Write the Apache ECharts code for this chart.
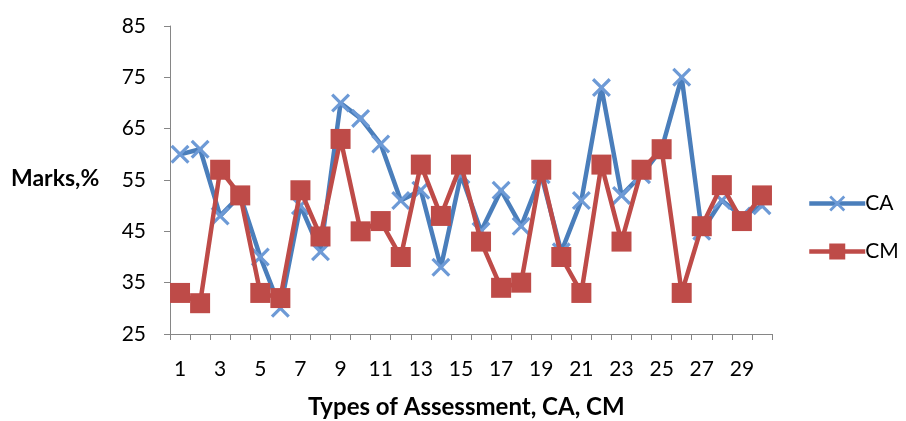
<!DOCTYPE html>
<html>
<head>
<meta charset="utf-8">
<script src="https://cdn.jsdelivr.net/npm/echarts@6/dist/echarts.min.js"></script>
<style>
  html, body { margin: 0; padding: 0; background: #fff; }
  #chart { width: 906px; height: 421px; }
</style>
</head>
<body>
<div id="chart"></div>
<script>
// Assessment numbers 1..30
const categories = Array.from({ length: 30 }, (_, i) => String(i + 1));

// Marks (%) per assessment
const caMarks = [60, 61, 48, 52, 40, 30, 50, 41, 70, 67,
                 62, 51, 53, 38, 56, 45, 53, 46, 56, 41,
                 51, 73, 52, 56, 61, 75, 45, 51, 48, 50];
const cmMarks = [33, 31, 57, 52, 33, 32, 53, 44, 63, 45,
                 47, 40, 58, 48, 58, 43, 34, 35, 57, 40,
                 33, 58, 43, 57, 61, 33, 46, 54, 47, 52];

const yTicks = { min: 25, max: 85, step: 10 };

const FONT = 'Lato, "Open Sans", sans-serif';
const BLUE = '#4a7ebb';
const RED = '#be4b48';
const CROSS = 'path://M0,1.2 L1.2,0 L10,8.8 L8.8,10 Z M8.8,0 L10,1.2 L1.2,10 L0,8.8 Z';

const chart = echarts.init(document.getElementById('chart'), null, { renderer: 'canvas' });

chart.setOption({
  animation: false,
  backgroundColor: '#ffffff',
  grid: { left: 170, right: 134, top: 26, bottom: 87 },
  legend: {
    orient: 'vertical',
    left: 807,
    top: 193,
    padding: 0,
    itemWidth: 56,
    itemHeight: 20,
    itemGap: 27,
    lineStyle: { width: 4.5 },
    textStyle: { fontFamily: FONT, fontSize: 21, color: '#000', padding: [0, 0, 0, -5] },
    data: ['CA', 'CM']
  },
  xAxis: {
    type: 'category',
    data: categories,
    boundaryGap: true,
    axisLine: { lineStyle: { color: '#868686', width: 1 } },
    axisTick: { show: true, interval: 0, length: 6, lineStyle: { color: '#868686' } },
    axisLabel: { interval: 1, margin: 25, fontFamily: FONT, fontSize: 21, color: '#000' },
    splitLine: { show: false }
  },
  yAxis: {
    type: 'value',
    min: yTicks.min,
    max: yTicks.max,
    interval: yTicks.step,
    axisLine: { show: true, lineStyle: { color: '#868686', width: 1 } },
    axisTick: { show: true, length: 6, lineStyle: { color: '#868686' } },
    axisLabel: { margin: 24, fontFamily: FONT, fontSize: 21, color: '#000' },
    splitLine: { show: false }
  },
  graphic: [
    {
      type: 'text', left: 11, top: 167,
      style: { text: 'Marks,%', font: 'bold 23px ' + FONT, fill: '#000' }
    },
    {
      type: 'text', left: 308, top: 395,
      style: { text: 'Types of Assessment, CA, CM', font: 'bold 24px ' + FONT, fill: '#000' }
    }
  ],
  series: [
    {
      name: 'CA',
      type: 'line',
      data: caMarks,
      symbol: CROSS,
      symbolSize: 19,
      showAllSymbol: true,
      lineStyle: { color: BLUE, width: 4.5 },
      itemStyle: { color: '#6d9ad6' },
      z: 2
    },
    {
      name: 'CM',
      type: 'line',
      data: cmMarks,
      symbol: 'rect',
      symbolSize: 20,
      showAllSymbol: true,
      lineStyle: { color: RED, width: 4.5 },
      itemStyle: { color: RED },
      z: 3
    }
  ]
});
</script>
</body>
</html>
